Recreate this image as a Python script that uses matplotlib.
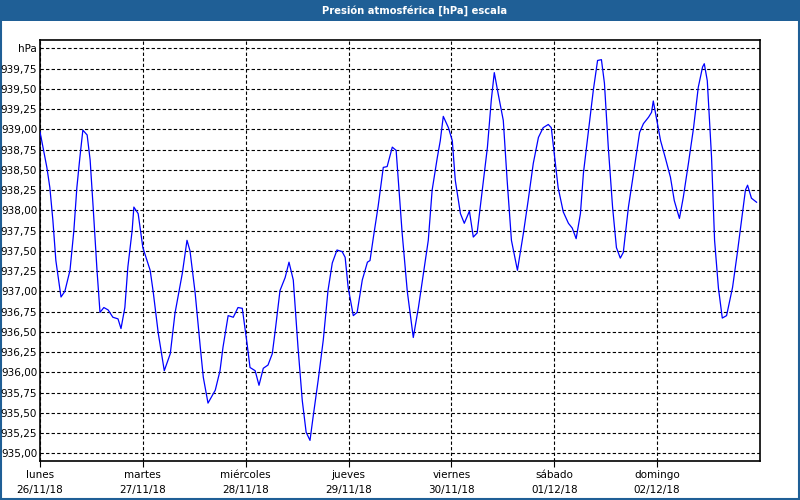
import matplotlib
matplotlib.use("Agg")
import matplotlib.pyplot as plt
from matplotlib.patches import Rectangle

plt.rcParams['font.family'] = ['DejaVu Sans']

title = "Presión atmosférica [hPa] escala"

# hours since lunes 26/11/18 00:00
hours = [0, 0.7, 1.6, 2.3, 3.0, 3.7, 4.9, 5.8, 7.0, 7.9, 8.6, 9.3, 10.0, 11.0, 11.7,
         12.4, 13.3, 14.0, 14.9, 15.9, 17.0, 18.2, 18.9, 19.8, 20.5, 21.5, 21.9, 22.9,
         24.0, 25.7, 26.4, 27.6, 29.0, 30.4, 31.5, 33.2, 34.3, 35.0, 36.2, 37.4, 38.1,
         39.2, 40.9, 42.0, 42.7, 43.9, 45.1, 46.2, 47.2, 48.3, 49.0, 50.2, 51.1, 52.1,
         53.2, 54.2, 54.9, 56.0, 57.2, 58.1, 59.1, 60.2, 61.2, 62.1, 63.0, 63.7, 64.9,
         66.1, 67.2, 68.2, 69.3, 70.5, 71.2, 71.9, 73.1, 74.0, 75.2, 76.4, 77.0, 77.8,
         78.9, 80.1, 81.0, 82.2, 83.1, 83.6, 84.5, 85.7, 87.1, 88.3, 89.4, 90.6, 91.5,
         92.7, 93.4, 94.1, 95.3, 96.2, 96.9, 98.1, 99.0, 100.2, 101.1, 102.0, 103.2,
         104.4, 105.3, 106.0, 106.9, 108.1, 109.0, 110.0, 111.4, 112.8, 113.9, 115.1,
         116.3, 117.4, 118.6, 119.3, 120.0, 120.9, 122.1, 123.3, 124.2, 125.1, 126.1,
         126.8, 128.0, 129.1, 130.1, 131.0, 131.7, 132.6, 133.6, 134.5, 135.4, 136.1,
         137.3, 138.5, 139.9, 140.8, 142.0, 142.7, 143.1, 143.8, 144.8, 145.9, 147.1,
         148.0, 149.2, 150.1, 151.3, 152.5, 153.6, 154.6, 155.0, 155.7, 156.7, 157.4,
         158.3, 159.2, 160.2, 161.6, 162.7, 163.9, 164.6, 165.1, 166.0, 167.2]

pressure = [938.97, 938.78, 938.53, 938.28, 937.88, 937.38, 936.93, 937.00, 937.26, 937.75,
            938.28, 938.65, 938.99, 938.93, 938.62, 938.04, 937.26, 936.74, 936.80, 936.77,
            936.68, 936.66, 936.54, 936.80, 937.30, 937.75, 938.04, 937.96, 937.54, 937.26,
            937.00, 936.48, 936.02, 936.23, 936.73, 937.22, 937.63, 937.50, 936.98, 936.31,
            935.94, 935.62, 935.78, 936.02, 936.31, 936.70, 936.68, 936.80, 936.79, 936.36,
            936.06, 936.02, 935.84, 936.05, 936.09, 936.23, 936.52, 937.01, 937.17, 937.36,
            937.14, 936.31, 935.65, 935.26, 935.16, 935.44, 935.90, 936.40, 937.01, 937.35,
            937.51, 937.49, 937.42, 937.05, 936.70, 936.74, 937.14, 937.36, 937.38, 937.67,
            938.05, 938.53, 938.54, 938.78, 938.74, 938.37, 937.72, 937.00, 936.43, 936.80,
            937.20, 937.63, 938.25, 938.65, 938.86, 939.16, 939.02, 938.86, 938.37, 937.96,
            937.84, 937.99, 937.67, 937.72, 938.25, 938.78, 939.36, 939.70, 939.44, 939.11,
            938.37, 937.63, 937.26, 937.72, 938.12, 938.58, 938.90, 939.02, 939.06, 939.02,
            938.70, 938.28, 937.98, 937.84, 937.78, 937.65, 937.96, 938.46, 938.99, 939.48,
            939.85, 939.86, 939.57, 938.78, 938.04, 937.54, 937.41, 937.48, 938.04, 938.46,
            938.96, 939.07, 939.15, 939.21, 939.35, 939.15, 938.86, 938.65, 938.41, 938.12,
            937.90, 938.16, 938.58, 939.02, 939.52, 939.77, 939.81, 939.60, 938.65, 937.63,
            937.04, 936.67, 936.70, 937.05, 937.47, 937.96, 938.25, 938.31, 938.15, 938.10]

day_ticks = [0, 24, 48, 72, 96, 120, 144]
day_labels = ["lunes\n26/11/18", "martes\n27/11/18", "miércoles\n28/11/18",
              "jueves\n29/11/18", "viernes\n30/11/18", "sábado\n01/12/18",
              "domingo\n02/12/18"]
y_ticks = [935.00, 935.25, 935.50, 935.75, 936.00, 936.25, 936.50, 936.75, 937.00,
           937.25, 937.50, 937.75, 938.00, 938.25, 938.50, 938.75, 939.00, 939.25,
           939.50, 939.75, 940.00]
y_labels = ["935,00", "935,25", "935,50", "935,75", "936,00", "936,25", "936,50",
            "936,75", "937,00", "937,25", "937,50", "937,75", "938,00", "938,25",
            "938,50", "938,75", "939,00", "939,25", "939,50", "939,75", "hPa"]

BLUE_BAR = "#1f5f96"

fig = plt.figure(figsize=(8, 5), dpi=100)
fig.patch.set_facecolor("white")

# title bar
fig.add_artist(Rectangle((0, 1 - 21 / 500), 1, 21 / 500, transform=fig.transFigure,
                         facecolor=BLUE_BAR, edgecolor="none", zorder=0))
fig.text(415 / 800, 1 - 10.5 / 500, title, color="white", fontsize=7.2, fontweight="bold",
         ha="center", va="center")
# outer frame
fig.add_artist(Rectangle((0.001, 0.002), 0.998, 0.996, transform=fig.transFigure,
                         facecolor="none", edgecolor=BLUE_BAR, linewidth=1.5, zorder=0))

ax = fig.add_axes([40 / 800, (500 - 460.7) / 500, 720 / 800, 420.4 / 500])
ax.plot(hours, pressure, color="#0000ff", linewidth=0.9, zorder=3)

ax.set_xlim(0, 168)
ax.set_ylim(934.909, 940.099)
ax.set_xticks(day_ticks)
ax.set_xticklabels(day_labels, fontsize=7.5, linespacing=1.6)
ax.tick_params(axis="x", direction="out", length=4, width=0.8, pad=3, colors="black")
ax.set_yticks(y_ticks)
ax.set_yticklabels(y_labels, fontsize=7.5)
ax.tick_params(axis="y", length=0, pad=2)
ax.grid(True, color="black", linestyle=(0, (3, 2)), linewidth=0.8)
ax.set_axisbelow(True)
for s in ax.spines.values():
    s.set_color("black")
    s.set_linewidth(1.2)

fig.savefig("out.png", dpi=100, facecolor="white")
